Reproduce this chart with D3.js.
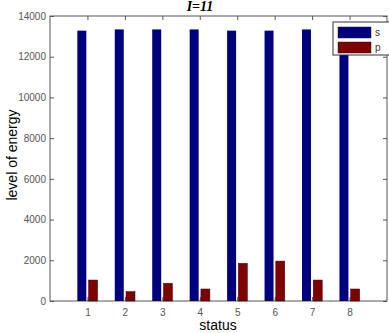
<!DOCTYPE html>
<html>
  <head>
    <meta charset="utf-8" />
    <script src="https://cdn.jsdelivr.net/npm/d3@7"></script>
    <style>
      body { margin: 0; background: #fff; }
      .axis text { font: 10px Arial, "Liberation Sans", sans-serif; fill: #555; }
      .axis path, .axis line { stroke: #555; }
    </style>
  </head>
  <body>
    <svg id="chart" width="389" height="333"></svg>
    <script>
      // values
      var statuses = [1, 2, 3, 4, 5, 6, 7, 8];
      var sValues = [13280, 13340, 13340, 13340, 13280, 13280, 13340, 13300];
      var pValues = [1030, 460, 870, 590, 1850, 1960, 1030, 590];
      var yTicks = [0, 2000, 4000, 6000, 8000, 10000, 12000, 14000];
      var seriesNames = ['s', 'p'];
      var colors = ['#00007f', '#7f0000'];

      var svg = d3.select('#chart');
      // plot box (note: "top" is reserved on window, so use pTop etc)
      var pLeft = 50, pRight = 387, pTop = 16, pBottom = 301;

      var sx = d3.scaleLinear().domain([0, 9]).range([pLeft, pRight]);
      var sy = d3.scaleLinear().domain([0, 14000]).range([pBottom, pTop]);

      var barW = 0.24, off = 0.15;

      svg.append('rect')
        .attr('x', pLeft).attr('y', pTop)
        .attr('width', pRight - pLeft).attr('height', pBottom - pTop)
        .attr('fill', 'none').attr('stroke', '#555');

      var xaxis = d3.axisBottom(sx).tickValues(statuses).tickSize(-4).tickPadding(8);
      var yaxis = d3.axisLeft(sy).tickValues(yTicks).tickSize(-4).tickPadding(4)
        .tickFormat(d3.format('d'));

      svg.append('g').attr('class', 'axis')
        .attr('transform', 'translate(0,' + pBottom + ')').call(xaxis)
        .select('.domain').remove();
      svg.append('g').attr('class', 'axis')
        .attr('transform', 'translate(' + pLeft + ',0)').call(yaxis)
        .select('.domain').remove();
      // top and right ticks
      svg.append('g').attr('class', 'axis')
        .attr('transform', 'translate(0,' + pTop + ')')
        .call(d3.axisTop(sx).tickValues(statuses).tickSize(-4).tickFormat(''))
        .select('.domain').remove();
      svg.append('g').attr('class', 'axis')
        .attr('transform', 'translate(' + pRight + ',0)')
        .call(d3.axisRight(sy).tickValues(yTicks).tickSize(-4).tickFormat(''))
        .select('.domain').remove();

      // bars
      svg.selectAll('.bar-s').data(sValues).enter().append('rect')
        .attr('class', 'bar-s')
        .attr('x', function(d, i) { return sx(statuses[i] - off - barW / 2); })
        .attr('width', sx(barW) - sx(0))
        .attr('y', function(d) { return sy(d); })
        .attr('height', function(d) { return sy(0) - sy(d); })
        .attr('fill', colors[0]);
      svg.selectAll('.bar-p').data(pValues).enter().append('rect')
        .attr('class', 'bar-p')
        .attr('x', function(d, i) { return sx(statuses[i] + off - barW / 2); })
        .attr('width', sx(barW) - sx(0))
        .attr('y', function(d) { return sy(d); })
        .attr('height', function(d) { return sy(0) - sy(d); })
        .attr('fill', colors[1])
        .attr('stroke', '#3a0000').attr('stroke-width', 0.5);

      // legend
      var lg = svg.append('g');
      lg.append('rect')
        .attr('x', 333).attr('y', 22).attr('width', 60).attr('height', 33)
        .attr('fill', '#fff').attr('stroke', '#333');
      seriesNames.forEach(function(n, i) {
        lg.append('rect')
          .attr('x', 338).attr('y', 27 + i * 15)
          .attr('width', 33).attr('height', 11)
          .attr('fill', colors[i]).attr('stroke', '#222').attr('stroke-width', 0.5);
        lg.append('text')
          .attr('x', 375).attr('y', 36 + i * 15)
          .text(n)
          .style('font', '10px Arial, sans-serif').attr('fill', '#333');
      });

      // labels
      svg.append('text')
        .attr('x', 200).attr('y', 11)
        .attr('text-anchor', 'middle')
        .text('I=11')
        .style('font', 'italic bold 14px "Liberation Serif", serif');
      svg.append('text')
        .attr('x', 218).attr('y', 330)
        .attr('text-anchor', 'middle')
        .text('status')
        .style('font', '14px Arial, "Liberation Sans", sans-serif');
      svg.append('text')
        .attr('transform', 'translate(17,155) rotate(-90)')
        .attr('text-anchor', 'middle')
        .text('level of energy')
        .style('font', '14px Arial, "Liberation Sans", sans-serif');
    </script>
  </body>
</html>
